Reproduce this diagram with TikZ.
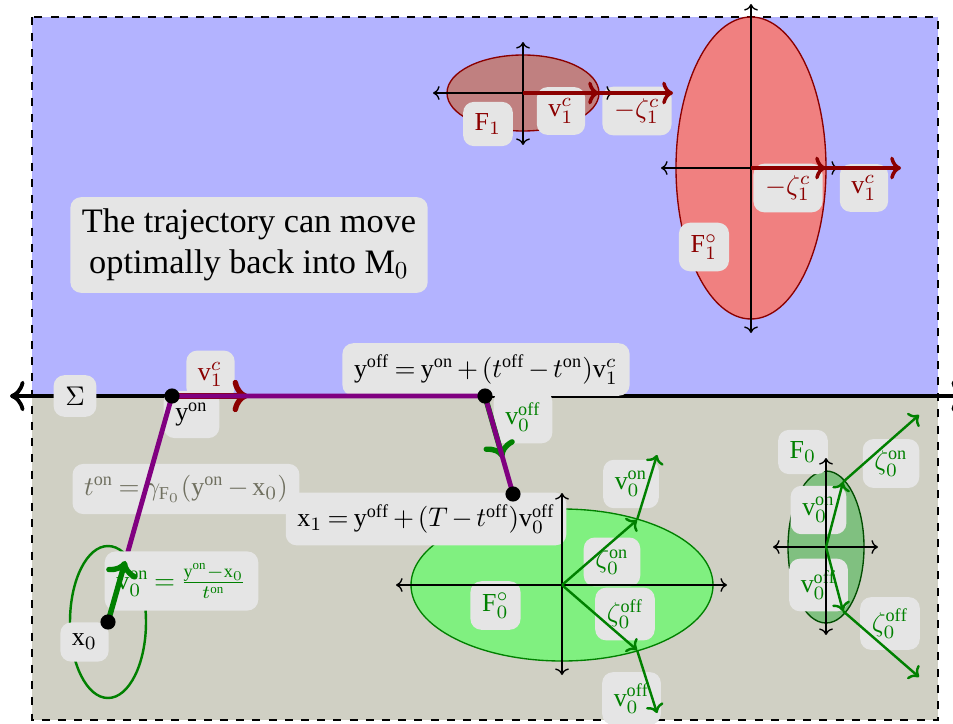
\documentclass[tikz,border=0pt]{standalone}
\usepackage{fontspec}
\setmainfont{Liberation Serif}
\usetikzlibrary{arrows.meta,calc}
\definecolor{bgblue}{RGB}{179,179,255}
\definecolor{bggray}{RGB}{208,208,196}
\definecolor{dred}{RGB}{139,0,0}
\definecolor{dgreen}{RGB}{0,128,0}
\definecolor{traj}{RGB}{128,0,128}
\definecolor{fone}{RGB}{192,128,128}
\definecolor{fonep}{RGB}{240,128,128}
\definecolor{fzerop}{RGB}{128,240,128}
\definecolor{fzero}{RGB}{128,192,128}
\definecolor{tgray}{RGB}{112,112,96}
\def\u{0.37037pt}
\thickmuskip=3.5mu plus 2mu
\medmuskip=2.5mu plus 1mu minus 1mu
\tikzset{
  lbl/.style={fill=black!10, rounded corners=4pt, inner sep=4.3pt, font=\fontsize{9.6}{11.5}\selectfont},
  axis/.style={line width=0.5pt, {To[scale=0.9]}-{To[scale=0.9]}},
  vec/.style={line width=0.9pt, -{To[scale=0.9]}},
  bigvec/.style={line width=2pt, -{To[scale=0.95]}},
  trajline/.style={traj, line width=1.8pt, line join=round},
  dot/.style={fill=black}
}
\begin{document}
\begin{tikzpicture}[x=0.37037pt,y=-0.37037pt]
\useasboundingbox (0,0) rectangle (953,724);
% backgrounds
\fill[bgblue] (32,17) rectangle (938,396);
\fill[bggray] (32,396) rectangle (938,720);
\draw[dashed, line width=0.6pt] (32,17) rectangle (938,720);
% named points
\coordinate (yon) at (172,396);
\coordinate (yoff) at (485,396);
\coordinate (x1) at (513,494);
\coordinate (x0) at (108,622);
\coordinate (c1) at (523,93);
\coordinate (c1p) at (751,168);
\coordinate (c0p) at (562,585);
\coordinate (c0) at (826,547);
\coordinate (sigL) at (10,396);
\coordinate (sigR) at (966,396);
\coordinate (p1a) at (599,93);
\coordinate (p1b) at (673,93);
\coordinate (p2a) at (826,168);
\coordinate (p2b) at (901,168);
\coordinate (q1) at (637,520);
\coordinate (q2) at (657,455);
\coordinate (q3) at (637,650);
\coordinate (q4) at (657,713);
\coordinate (r1) at (843,482);
\coordinate (r2) at (919,415);
\coordinate (r3) at (843,611);
\coordinate (r4) at (919,677);
\coordinate (redend) at (248,396);
% ellipses
\draw[dred, fill=fone, line width=0.5pt] (c1) ellipse [x radius={76*\u}, y radius={38*\u}];
\draw[dred, fill=fonep, line width=0.5pt] (c1p) ellipse [x radius={75*\u}, y radius={151*\u}];
\draw[dgreen, fill=fzerop, line width=0.5pt] (c0p) ellipse [x radius={151*\u}, y radius={76*\u}];
\draw[green!30!black, fill=fzero, line width=0.5pt] (c0) ellipse [x radius={38*\u}, y radius={76*\u}];
\draw[dgreen, line width=0.9pt] (x0) ellipse [x radius={38*\u}, y radius={76*\u}];
% Sigma line
\draw[line width=1.4pt, {To[scale=1.15]}-{To[scale=1.15]}] (sigL) -- (sigR);
% labels
\node[lbl, font=\fontsize{10}{12}\selectfont] (sig) at (75,396) {$\Sigma$};
\node[lbl, font=\fontsize{12.7}{15.3}\selectfont, align=center] (txt) at (249,245) {The trajectory can move\\optimally back into $\mathrm{M}_0$};
\node[lbl, text=dred] (F1lab) at (488,124) {$\mathrm{F}_1$};
\node[lbl, text=dred] (v1a) at (561,111) {$\mathrm{v}_1^c$};
\node[lbl, text=dred] (z1a) at (637,111) {$-\zeta_1^c$};
\node[lbl, text=dred] (F1plab) at (704,247) {$\mathrm{F}_1^\circ$};
\node[lbl, text=dred] (z1b) at (788,188) {$-\zeta_1^c$};
\node[lbl, text=dred] (v1b) at (864,188) {$\mathrm{v}_1^c$};
\node[lbl] (yonlab) at (191.5,414.5) {$\mathrm{y}^{\mathrm{on}}$};
\node[lbl, text=dred] (v1c) at (210.5,374.5) {$\mathrm{v}_1^c$};
\node[lbl] (yofflab) at (486,369.5) {$\mathrm{y}^{\mathrm{off}} = \mathrm{y}^{\mathrm{on}} + (t^{\mathrm{off}} - t^{\mathrm{on}})\mathrm{v}_1^c$};
\node[lbl, text=dgreen] (v0offa) at (523,417) {$\mathrm{v}_0^{\mathrm{off}}$};
\node[lbl] (x1lab) at (426,519) {$\mathrm{x}_1 = \mathrm{y}^{\mathrm{off}} + (T - t^{\mathrm{off}})\mathrm{v}_0^{\mathrm{off}}$};
\node[lbl, text=tgray] (tonlab) at (186,489) {$t^{\mathrm{on}} = \gamma_{\mathrm{F}_0}(\mathrm{y}^{\mathrm{on}} - \mathrm{x}_0)$};
\node[lbl] (x0lab) at (84.5,642) {$\mathrm{x}_0$};
\node[lbl, text=dgreen] (v0onb) at (631,484) {$\mathrm{v}_0^{\mathrm{on}}$};
\node[lbl, text=dgreen] (z0onb) at (612,562) {$\zeta_0^{\mathrm{on}}$};
\node[lbl, text=dgreen] (z0offb) at (625,614) {$\zeta_0^{\mathrm{off}}$};
\node[lbl, text=dgreen] (v0offb) at (631.5,698.5) {$\mathrm{v}_0^{\mathrm{off}}$};
\node[lbl, text=dgreen] (F0plab) at (495.5,605.5) {$\mathrm{F}_0^\circ$};
\node[lbl, text=dgreen] (F0lab) at (803,452) {$\mathrm{F}_0$};
\node[lbl, text=dgreen] (v0onc) at (818.5,510) {$\mathrm{v}_0^{\mathrm{on}}$};
\node[lbl, text=dgreen] (v0offc) at (818.5,585) {$\mathrm{v}_0^{\mathrm{off}}$};
\node[lbl, text=dgreen] (z0onc) at (891,463.5) {$\zeta_0^{\mathrm{on}}$};
\node[lbl, text=dgreen] (z0offc) at (890,623.5) {$\zeta_0^{\mathrm{off}}$};
% axes
\draw[axis] ($(c1)+(-90,0)$) -- ($(c1)+(90,0)$);
\draw[axis] ($(c1)+(0,52)$) -- ($(c1)+(0,-51)$);
\draw[axis] ($(c1p)+(-90,0)$) -- ($(c1p)+(87,0)$);
\draw[axis] ($(c1p)+(0,165)$) -- ($(c1p)+(0,-164)$);
\draw[axis] ($(c0p)+(-166,0)$) -- ($(c0p)+(165,0)$);
\draw[axis] ($(c0p)+(0,90)$) -- ($(c0p)+(0,-92)$);
\draw[axis] ($(c0)+(-53,0)$) -- ($(c0)+(52,0)$);
\draw[axis] ($(c0)+(0,88)$) -- ($(c0)+(0,-89)$);
% dark red vectors
\draw[vec, dred, line width=1.3pt] (c1) -- (p1b);
\draw[vec, dred, line width=1.3pt] (c1) -- (p1a);
\draw[vec, dred, line width=1.3pt] (c1p) -- (p2b);
\draw[vec, dred, line width=1.3pt] (c1p) -- (p2a);
% green vectors
\draw[vec, dgreen] (c0p) -- (q1);
\draw[vec, dgreen] (q1) -- (q2);
\draw[vec, dgreen] (c0p) -- (q3);
\draw[vec, dgreen] (q3) -- (q4);
\draw[vec, dgreen] (c0) -- (r1);
\draw[vec, dgreen] (r1) -- (r2);
\draw[vec, dgreen] (c0) -- (r3);
\draw[vec, dgreen] (r3) -- (r4);
% trajectory
\draw[bigvec, dred] (yon) -- (redend);
\draw[bigvec, dgreen] (yoff) -- ($(yoff)!0.63!(x1)$);
\draw[trajline] (x0) -- (yon) -- (yoff) -- (x1);
\node[lbl, text=dgreen] (v0onlab) at (181.5,581) {$\mathrm{v}_0^{\mathrm{on}} = \frac{\mathrm{y}^{\mathrm{on}} - \mathrm{x}_0}{t^{\mathrm{on}}}$};
\draw[bigvec, dgreen] (x0) -- ($(x0)!0.27!(yon)$);
\fill[dot] (yon) circle (2.8pt);
\fill[dot] (yoff) circle (2.8pt);
\fill[dot] (x1) circle (2.8pt);
\fill[dot] (x0) circle (2.8pt);
\end{tikzpicture}
\end{document}
